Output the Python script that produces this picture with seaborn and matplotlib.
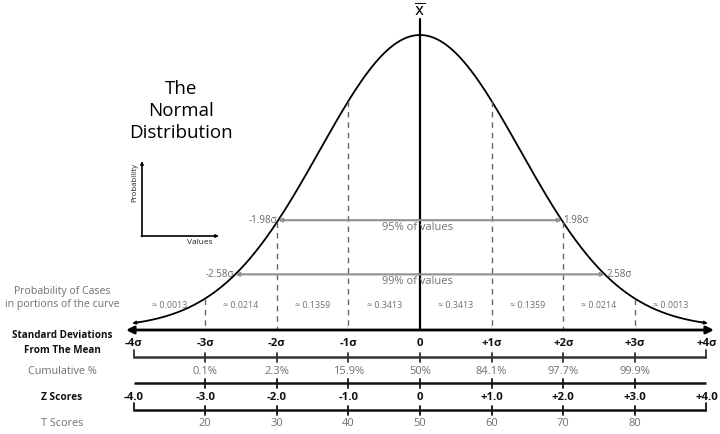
import numpy as np
import pandas as pd
import matplotlib
matplotlib.use("Agg")
import matplotlib.pyplot as plt
import seaborn as sns

# ---------------- data ----------------
sigma_pos = [-4, -3, -2, -1, 0, 1, 2, 3, 4]
sigma_labels = ["-4σ", "-3σ", "-2σ", "-1σ", "0", "+1σ", "+2σ", "+3σ", "+4σ"]
cum_pos = [-3, -2, -1, 0, 1, 2, 3]
cum_labels = ["0.1%", "2.3%", "15.9%", "50%", "84.1%", "97.7%", "99.9%"]
z_labels = ["-4.0", "-3.0", "-2.0", "-1.0", "0", "+1.0", "+2.0", "+3.0", "+4.0"]
t_pos = [-3, -2, -1, 0, 1, 2, 3]
t_labels = ["20", "30", "40", "50", "60", "70", "80"]
prob_pos = [-3.5, -2.5, -1.5, -0.5, 0.5, 1.5, 2.5, 3.5]
prob_labels = ["≈ 0.0013", "≈ 0.0214", "≈ 0.1359", "≈ 0.3413",
               "≈ 0.3413", "≈ 0.1359", "≈ 0.0214", "≈ 0.0013"]
dash_pos = [-3, -2, -1, 1, 2, 3]
band_sigma = [1.98, 2.58]
band_labels = ["95% of values", "99% of values"]
curve_sd = 1.40  # spread of the drawn bell, in units of the sigma axis

# ---------------- style ----------------
sns.set_style("white")
plt.rcParams["font.family"] = ["Open Sans", "DejaVu Sans"]
GRAY = "#707070"
LGRAY = "#8f8f8f"

fig = plt.figure(figsize=(7.2, 4.34), dpi=100)
ax = fig.add_axes([0, 0, 1, 1])
ax.axis("off")

def pdf(x):
    return np.exp(-np.asarray(x) ** 2 / (2 * curve_sd ** 2)) / (curve_sd * np.sqrt(2 * np.pi))

P0 = pdf(0.0)
BASE_PX, PEAK_PX, SPX = 328.0, 35.0, 71.6
K = P0 / (BASE_PX - PEAK_PX)

def Y(px):  # pixel row (from top) -> data y
    return (BASE_PX - px) * K

def X(px):  # pixel column -> data x (sigma units)
    return (px - 420.0) / SPX

ax.set_xlim(X(0), X(720))
ax.set_ylim(Y(434), Y(0))

# ---------------- bell curve ----------------
xs = np.linspace(-3.95, 3.95, 500)
df = pd.DataFrame({"x": xs, "y": pdf(xs)})
sns.lineplot(data=df, x="x", y="y", color="black", lw=1.3, ax=ax, sort=False)
for s in (-1, 1):
    ax.annotate("", xy=(s * 4.02, pdf(4.02)), xytext=(s * 3.92, pdf(3.92)),
                arrowprops=dict(arrowstyle="-|>", color="black", lw=1.0,
                                mutation_scale=5, shrinkA=0, shrinkB=0))

# mean line and x-bar
ax.plot([0, 0], [Y(19), Y(330)], color="black", lw=1.6)
ax.text(0, Y(12), r"$\overline{\mathsf{x}}$", ha="center", va="center",
        fontsize=11, color="black")

# dashed sigma lines
for p in dash_pos:
    ax.plot([p, p], [pdf(p), Y(330)], color="#666666", lw=1.0,
            linestyle=(0, (4, 3.5)))

# 95% / 99% bands
for s, lab in zip(band_sigma, band_labels):
    yb = pdf(s)
    ax.annotate("", xy=(-s, yb), xytext=(s, yb),
                arrowprops=dict(arrowstyle="<|-|>", color=LGRAY, lw=1.5,
                                mutation_scale=5, shrinkA=0, shrinkB=0))
    ax.text(-s - 0.02, yb, f"-{s:.2f}σ", ha="right", va="center",
            fontsize=7, color="#666666")
    ax.text(s + 0.02, yb, f"{s:.2f}σ", ha="left", va="center",
            fontsize=7, color="#666666")
    ax.text(-0.04, yb - 7 * K, lab, ha="center", va="center",
            fontsize=8, color=GRAY)

# probability of cases
for p, lab in zip(prob_pos, prob_labels):
    ax.text(p, Y(305), lab, ha="center", va="center", fontsize=6.4, color=GRAY)

# main axis
ax.annotate("", xy=(X(126), Y(330)), xytext=(X(714), Y(330)),
            arrowprops=dict(arrowstyle="<|-|>", color="black", lw=2.0,
                            mutation_scale=11, shrinkA=0, shrinkB=0))

# sigma labels row
for p, lab in zip(sigma_pos, sigma_labels):
    ax.text(p, Y(344), lab, ha="center", va="center", fontsize=8.2,
            color="#111111", fontweight="bold")

def scale_line(py, caps, color="#222222"):
    ax.plot([-4, 4], [Y(py), Y(py)], color=color, lw=1.8, solid_capstyle="butt")
    for p in range(-3, 4):
        ax.plot([p, p], [Y(py - 4), Y(py + 5)], color=color, lw=1.3)
    if caps:
        for p in (-4, 4):
            ax.plot([p, p], [Y(py - 7), Y(py + 0.8)], color=color, lw=1.3)

scale_line(357, True, "#333333")
scale_line(383, False, "#111111")
scale_line(410, True, "#111111")

for p, lab in zip(cum_pos, cum_labels):
    ax.text(p, Y(371), lab, ha="center", va="center", fontsize=8, color=GRAY)
for p, lab in zip(sigma_pos, z_labels):
    ax.text(p, Y(397), lab, ha="center", va="center", fontsize=8.2,
            color="#111111", fontweight="bold")
for p, lab in zip(t_pos, t_labels):
    ax.text(p, Y(424), lab, ha="center", va="center", fontsize=8, color=GRAY)

# left-hand row titles
cx = X(62)
ax.text(cx, Y(298), "Probability of Cases\nin portions of the curve", ha="center",
        va="center", fontsize=7.6, color=GRAY, linespacing=1.35)
ax.text(cx, Y(343), "Standard Deviations\nFrom The Mean", ha="center",
        va="center", fontsize=7.1, color="#111111", fontweight="bold",
        linespacing=1.45)
ax.text(cx, Y(371), "Cumulative %", ha="center", va="center", fontsize=7.8, color=GRAY)
ax.text(cx, Y(397), "Z Scores", ha="center", va="center", fontsize=7.3,
        color="#111111", fontweight="bold")
ax.text(cx, Y(424), "T Scores", ha="center", va="center", fontsize=7.8, color=GRAY)

# title
ax.text(X(181), Y(111), "The\nNormal\nDistribution", ha="center", va="center",
        fontsize=13.5, color="black", linespacing=1.3)

# mini axes
ax.annotate("", xy=(X(142), Y(161)), xytext=(X(142), Y(236.5)),
            arrowprops=dict(arrowstyle="-|>", color="black", lw=1.2,
                            mutation_scale=4, shrinkA=0, shrinkB=0))
ax.annotate("", xy=(X(219), Y(236)), xytext=(X(141.4), Y(236)),
            arrowprops=dict(arrowstyle="-|>", color="black", lw=1.2,
                            mutation_scale=4, shrinkA=0, shrinkB=0))
ax.text(X(135), Y(183), "Probability", rotation=90, ha="center", va="center",
        fontsize=5.6, color="#222222")
ax.text(X(200), Y(242), "Values", ha="center", va="center", fontsize=6.0,
        color="#222222")

fig.savefig("out.png", dpi=100)
